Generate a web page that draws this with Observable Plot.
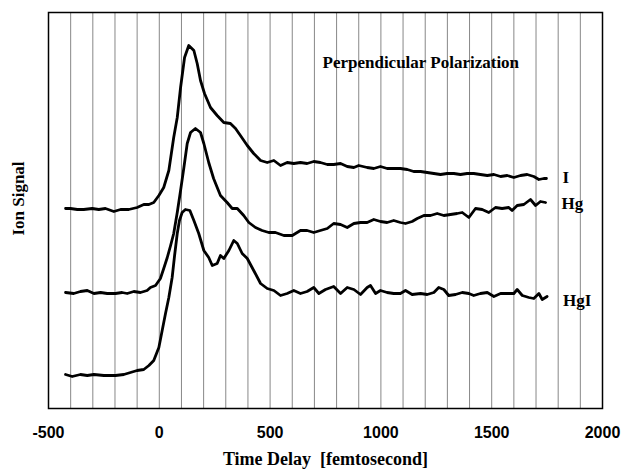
<!DOCTYPE html>
<html>
<head>
<meta charset="utf-8">
<script src="https://cdn.jsdelivr.net/npm/d3@7"></script>
<script src="https://cdn.jsdelivr.net/npm/@observablehq/plot@0.6"></script>
<style>
  body { margin: 0; background: #fff; }
  #chart svg { display: block; }
</style>
</head>
<body>
<div id="chart"></div>
<script>
// ---- data (time delay in fs, ion signal in arbitrary units, traces vertically offset) ----
const seriesNames = ["I", "Hg", "HgI"];

const timesI = [-423,-401,-370,-341,-303,-273,-243,-205,-175,-138,-100,-70,-47,-25,-2,20,43,65,81,96,114,133,156,171,186,204,231,261,291,321,344,366,397,426,457,487,517,547,577,607,637,667,697,727,758,787,818,848,878,900,938,968,998,1028,1058,1088,1119,1148,1179,1209,1239,1269,1299,1329,1359,1389,1419,1449,1480,1510,1540,1570,1600,1630,1660,1690,1713,1735,1747];
const signalI = [200,200,199,199,200,199,200,197,199,199,201,204,204,206,213,221,238,271,291,321,351,363,358,345,328,315,301,293,286,285,280,273,263,255,248,246,248,243,246,245,246,245,247,246,244,244,245,242,241,243,241,240,242,240,240,240,239,237,237,236,235,234,235,235,234,235,235,234,233,234,232,233,231,233,234,232,229,230,230];

const timesHg = [-423,-386,-356,-325,-295,-265,-235,-198,-168,-145,-115,-85,-55,-40,-17,5,20,36,51,65,81,96,111,126,141,163,186,201,223,245,276,306,329,352,381,404,434,464,494,524,562,600,637,667,697,727,758,787,818,848,878,908,938,968,998,1028,1058,1088,1111,1141,1164,1194,1224,1254,1284,1314,1344,1367,1397,1427,1457,1487,1517,1547,1577,1592,1615,1645,1675,1698,1720,1743];
const signalHg = [116,115,117,118,115,116,115,115,116,115,117,116,118,121,123,130,140,151,163,175,196,218,241,265,276,280,276,265,246,230,213,206,200,200,193,186,181,178,176,176,173,173,178,178,176,178,180,185,184,181,185,186,186,189,187,186,188,186,185,187,190,193,193,195,193,194,195,196,191,200,199,196,201,200,201,198,203,204,209,203,207,206];

const timesHgI = [-423,-393,-356,-325,-295,-250,-198,-160,-130,-100,-70,-47,-25,-2,13,28,43,58,69,81,91,103,118,138,156,178,201,223,239,261,276,291,314,336,352,374,397,426,457,487,517,547,577,607,637,667,697,720,750,787,818,848,878,908,938,953,976,998,1028,1058,1088,1111,1141,1179,1209,1239,1261,1284,1306,1337,1367,1397,1419,1449,1480,1510,1540,1570,1600,1615,1638,1668,1690,1713,1728,1750];
const signalHgI = [34,32,34,33,34,33,33,34,36,38,39,43,48,61,78,95,111,131,153,175,188,196,199,198,188,175,158,151,143,145,153,150,158,168,165,155,150,138,125,120,118,113,115,118,115,117,121,115,119,122,115,121,119,114,121,123,115,118,116,115,115,118,114,115,114,116,121,119,113,114,116,115,113,115,116,112,115,115,115,119,113,111,110,115,109,112];

const xTicks = [-500, 0, 500, 1000, 1500, 2000];
const gridTimes = [-400,-300,-200,-100,0,100,200,300,400,500,600,700,800,900,1000,1100,1200,1300,1400,1500,1600,1700,1800,1900];

const titleText = "Perpendicular Polarization";
const xLabel = "Time Delay\u00a0 [femtosecond]";
const yLabel = "Ion Signal";

// ---- build table ----
const rows = [];
[[seriesNames[0], timesI, signalI], [seriesNames[1], timesHg, signalHg], [seriesNames[2], timesHgI, signalHgI]]
  .forEach(([name, ts, ss]) => ts.forEach((t, i) => rows.push({series: name, time: t, signal: ss[i]})));

const serif = "'Liberation Serif', 'Times New Roman', serif";
const sans = "'Liberation Sans', Arial, sans-serif";
const labelDy = {"I": -1, "Hg": 1, "HgI": 4};

const chart = Plot.plot({
  width: 622,
  height: 469,
  marginLeft: 48,
  marginRight: 20,
  marginTop: 12,
  marginBottom: 61,
  style: {background: "white", color: "black"},
  x: {domain: [-500, 2000]},
  y: {domain: [0, 396], axis: null},
  marks: [
    Plot.ruleX(gridTimes, {stroke: "#555", strokeWidth: 0.7}),
    Plot.axisX({ticks: xTicks, tickSize: 0, tickPadding: 18, tickFormat: d => String(d),
      fontSize: 16, fontWeight: "bold", fontFamily: sans, label: null}),
    Plot.frame({stroke: "black", strokeWidth: 1.5}),
    Plot.line(rows, {x: "time", y: "signal", z: "series", stroke: "black", strokeWidth: 2.8,
      strokeLinejoin: "round", strokeLinecap: "round"}),
    ...seriesNames.map(name => Plot.text(rows.filter(d => d.series === name),
      Plot.selectLast({x: "time", y: "signal", text: "series",
        dx: 16, dy: labelDy[name], textAnchor: "start", fontSize: 17, fontWeight: "bold", fontFamily: serif, fill: "black"}))),
    Plot.text([titleText], {frameAnchor: "top-left", dx: 274, dy: 50, lineAnchor: "middle", textAnchor: "start",
      fontSize: 17, fontWeight: "bold", fontFamily: serif, fill: "black"}),
    Plot.text([xLabel], {frameAnchor: "bottom", dy: 51, lineAnchor: "middle",
      fontSize: 18, fontWeight: "bold", fontFamily: serif, fill: "black"}),
    Plot.text([yLabel], {frameAnchor: "left", rotate: -90, dx: -30, dy: -12, lineAnchor: "middle", textAnchor: "middle",
      fontSize: 17, fontWeight: "bold", fontFamily: serif, fill: "black"})
  ]
});
document.getElementById("chart").appendChild(chart);
</script>
</body>
</html>
